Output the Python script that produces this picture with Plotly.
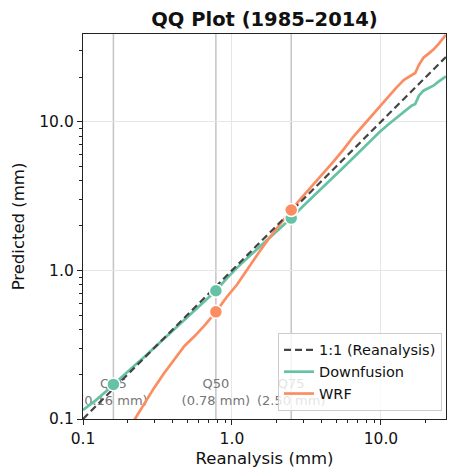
import plotly.graph_objects as go

# ---- data ----
reanalysis_q = [0.10, 0.12, 0.14, 0.16, 0.19, 0.22, 0.26, 0.30, 0.35, 0.41, 0.48, 0.56,
                0.66, 0.78, 0.92, 1.08, 1.27, 1.5, 1.77, 2.1, 2.5, 2.95, 3.5, 4.1, 4.8,
                5.6, 6.5, 7.5, 8.6, 9.8, 11.2, 12.7, 14.3, 16.0, 17.0, 18.0, 19.3, 21.0,
                22.5, 24.5, 27.3]
downfusion_q = [0.115, 0.132, 0.151, 0.171, 0.200, 0.227, 0.263, 0.300, 0.345, 0.40, 0.463,
                0.535, 0.625, 0.73, 0.88, 1.04, 1.21, 1.41, 1.65, 1.91, 2.25, 2.66, 3.12,
                3.65, 4.25, 4.93, 5.72, 6.56, 7.48, 8.53, 9.6, 10.6, 11.7, 12.8, 13.2, 15.0,
                16.2, 16.9, 17.5, 18.7, 20.2]
wrf_q = [0.028, 0.038, 0.049, 0.059, 0.077, 0.098, 0.128, 0.162, 0.203, 0.25, 0.31, 0.36,
         0.43, 0.526, 0.66, 0.80, 1.02, 1.30, 1.64, 2.06, 2.55, 3.1, 3.75, 4.5, 5.4,
         6.5, 7.9, 9.3, 10.9, 12.8, 14.9, 17.0, 19.2, 20.4, 21.3, 24.2, 27.0, 28.9,
         30.6, 33.6, 38.5]

# reference quantiles marked on the chart
quant_names = ["Q05", "Q50", "Q75"]
quant_reanalysis = [0.16, 0.78, 2.50]
quant_downfusion = [0.171, 0.73, 2.25]
quant_wrf = [0.059, 0.526, 2.55]

tick_vals = [0.1, 1.0, 10.0]
tick_text = ["0.1", "1.0", "10.0"]

# ---- styling ----
GREEN = "#66c2a5"
ORANGE = "#fc8d62"
DASH_COL = "#444444"
FONT = "DejaVu Sans"
LABEL_Y = 0.150
# the page body has an 8px default margin, so the figure is 8px smaller
FIG_W, FIG_H = 448, 461

minor_vals = [m * 10 ** e for e in (-1, 0, 1) for m in (2, 3, 4, 5, 6, 7, 8, 9)]

fig = go.Figure()

# quantile labels (drawn beneath the lines)
fig.add_trace(go.Scatter(
    x=quant_reanalysis, y=[LABEL_Y] * len(quant_reanalysis), mode="text",
    text=[f"{n}<br>({v:.2f} mm)" for n, v in zip(quant_names, quant_reanalysis)],
    textfont=dict(family=FONT, size=13, color="#767676"),
    textposition="middle center", showlegend=False, hoverinfo="skip"))

fig.add_trace(go.Scatter(x=reanalysis_q, y=downfusion_q, mode="lines", name="Downfusion",
                         line=dict(color=GREEN, width=2.7), legendrank=2))
fig.add_trace(go.Scatter(x=reanalysis_q, y=wrf_q, mode="lines", name="WRF",
                         line=dict(color=ORANGE, width=2.7), legendrank=3))
fig.add_trace(go.Scatter(x=[reanalysis_q[0], reanalysis_q[-1]],
                         y=[reanalysis_q[0], reanalysis_q[-1]], mode="lines",
                         name="1:1 (Reanalysis)",
                         line=dict(color=DASH_COL, width=2.2, dash="7px,4px"), legendrank=1))

fig.add_trace(go.Scatter(x=quant_reanalysis, y=quant_downfusion, mode="markers",
                         marker=dict(color=GREEN, size=13, line=dict(color="white", width=1.5)),
                         showlegend=False, hoverinfo="skip"))
fig.add_trace(go.Scatter(x=quant_reanalysis, y=quant_wrf, mode="markers",
                         marker=dict(color=ORANGE, size=13, line=dict(color="white", width=1.5)),
                         showlegend=False, hoverinfo="skip"))

for q in quant_reanalysis:
    fig.add_shape(type="line", xref="x", yref="paper", x0=q, x1=q, y0=0, y1=1,
                  line=dict(color="#c4c4c4", width=1.5), layer="below")

axis_common = dict(
    type="log", showline=True, mirror=True, linecolor="#222", linewidth=1.3,
    ticks="outside", ticklen=5, tickwidth=1.2, tickcolor="#222", automargin=False,
    tickvals=tick_vals, ticktext=tick_text, tickfont=dict(family=FONT, size=15.5, color="#111"),
    showgrid=True, gridcolor="#e6e6e6", gridwidth=1, zeroline=False,
    minor=dict(tickvals=minor_vals, ticks="outside", ticklen=3, tickwidth=1,
               tickcolor="#222", showgrid=False),
)

fig.update_xaxes(range=[-1, 1.437],
                 title=dict(text="Reanalysis (mm)",
                            font=dict(family=FONT, size=16.5, color="#111"), standoff=5),
                 **axis_common)
fig.update_yaxes(range=[-1, 1.591],
                 title=dict(text="Predicted (mm)",
                            font=dict(family=FONT, size=16.5, color="#111"), standoff=10),
                 **axis_common)

fig.update_layout(
    width=FIG_W, height=FIG_H,
    margin=dict(l=75, r=10, t=26, b=50, autoexpand=False),
    paper_bgcolor="white", plot_bgcolor="white",
    font=dict(family=FONT, color="#111"),
    title=dict(text="<b>QQ Plot (1985–2014)</b>", x=256.5 / FIG_W, xanchor="center",
               y=1 - 11 / FIG_H, yanchor="middle",
               font=dict(family=FONT, size=19.5, color="#111")),
    legend=dict(x=0.989, y=0.021, xanchor="right", yanchor="bottom",
                bgcolor="rgba(255,255,255,0.8)", bordercolor="#cccccc", borderwidth=1,
                font=dict(family=FONT, size=14.5, color="#111"), itemwidth=30,
                tracegroupgap=0),
    showlegend=True,
)

fig.write_html("out.html")
